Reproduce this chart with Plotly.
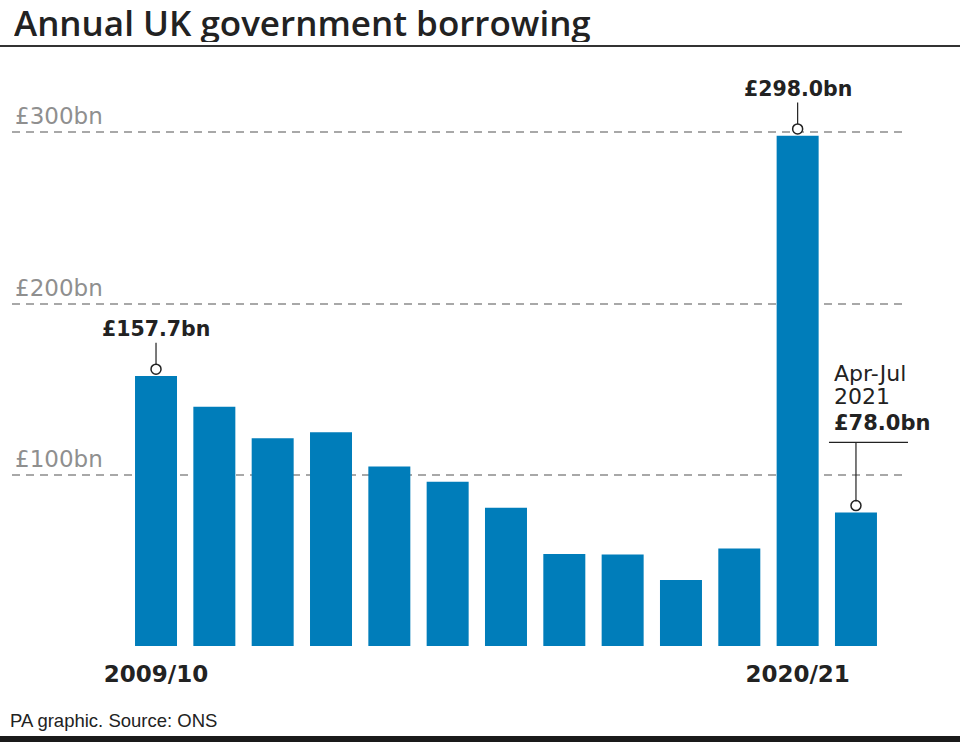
import plotly.graph_objects as go

categories = ["2009/10", "2010/11", "2011/12", "2012/13", "2013/14", "2014/15",
              "2015/16", "2016/17", "2017/18", "2018/19", "2019/20", "2020/21",
              "Apr-Jul 2021"]
values = [157.7, 139.8, 121.4, 124.8, 104.9, 96.0, 80.8, 53.8, 53.5, 38.5, 57.0, 298.0, 78.0]
y_tickvals = [100, 200, 300]
y_ticktext = [f"£{v}bn" for v in y_tickvals]
x_tickvals = ["2009/10", "2020/21"]

BAR = "#007dba"
INK = "#222222"
GRID = "#a8a8a8"
SANS = "DejaVu Sans"

fig = go.Figure()
fig.add_trace(go.Bar(x=categories, y=values, marker=dict(color=BAR, line=dict(width=0)),
                     hoverinfo="skip", showlegend=False))

# open circle markers on labelled bars
lab_idx = [0, 11, 12]
fig.add_trace(go.Scatter(
    x=[categories[i] for i in lab_idx], y=[values[i] + 4 for i in lab_idx],
    mode="markers", showlegend=False, hoverinfo="skip",
    marker=dict(symbol="circle", size=10, color="white", line=dict(color=INK, width=1.5))))

annotations = []
for i in [0, 11]:
    annotations.append(dict(
        x=categories[i], y=values[i] + 4, xref="x", yref="y",
        text=f"<b>£{values[i]:.1f}bn</b>", showarrow=True, arrowhead=0, arrowwidth=1.2,
        arrowcolor=INK, ax=0, ay=-40, standoff=5,
        font=dict(family=SANS, size=20.5, color=INK)))

# Apr-Jul 2021 callout
last = len(categories) - 1
for txt, ys in [("Apr-Jul", 139), ("2021", 116), ("<b>£78.0bn</b>", 89)]:
    annotations.append(dict(
        x=categories[last], y=values[last], xref="x", yref="y", xanchor="left", yanchor="middle",
        xshift=-24, yshift=ys, text=txt, showarrow=False, align="left",
        font=dict(family=SANS, size=22 if "b>" not in txt else 21, color=INK)))

annotations.append(dict(
    x=0, y=1, xref="paper", yref="paper", xanchor="left", yanchor="middle", xshift=0, yshift=59,
    height=40, valign="middle",
    text="Annual UK government borrowing", showarrow=False,
    font=dict(family="Open Sans", size=35, color=INK, weight=600)))
annotations.append(dict(
    x=0, y=0, xref="paper", yref="paper", xanchor="left", yanchor="middle", xshift=-4, yshift=-74,
    text="PA graphic. Source: ONS", showarrow=False,
    font=dict(family="Liberation Sans", size=18.5, color=INK)))

shapes = [
    # title rule
    dict(type="line", xref="paper", yref="paper", xsizemode="pixel", ysizemode="pixel",
         xanchor=0, yanchor=1, x0=-12, x1=948, y0=35, y1=35, line=dict(color="#333333", width=2)),
    # bottom band
    dict(type="rect", xref="paper", yref="paper", xsizemode="pixel", ysizemode="pixel",
         xanchor=0, yanchor=0, x0=-12, x1=948, y0=-90, y1=-100, fillcolor="#1a1a1a",
         line=dict(width=0)),
    # callout lines for final bar
    dict(type="line", xref="x", yref="y", xsizemode="pixel", ysizemode="pixel",
         xanchor=categories[last], yanchor=values[last], x0=0, x1=0, y0=11, y1=70,
         line=dict(color=INK, width=1.2)),
    dict(type="line", xref="x", yref="y", xsizemode="pixel", ysizemode="pixel",
         xanchor=categories[last], yanchor=values[last], x0=-27, x1=87, y0=70, y1=70,
         line=dict(color=INK, width=1.2)),
]

fig.update_layout(
    width=960, height=742, margin=dict(l=12, r=52, t=81, b=96),
    paper_bgcolor="white", plot_bgcolor="white", bargap=0.28,
    annotations=annotations, shapes=shapes, showlegend=False,
    xaxis=dict(type="category", categoryorder="array", categoryarray=categories,
               range=[-2.469, 12.892], tickvals=x_tickvals, ticktext=x_tickvals,
               showgrid=False, zeroline=False, showline=False, ticks="",
               ticklabelstandoff=12,
               tickfont=dict(family=SANS, size=23, color=INK, weight="bold")),
    yaxis=dict(range=[0, 330], tickvals=y_tickvals, ticktext=y_ticktext,
               showgrid=True, gridcolor=GRID, gridwidth=1.5, griddash="8px,6px",
               zeroline=False, showline=False, ticks="",
               ticklabelposition="inside top",
               tickfont=dict(family=SANS, size=23, color="#8f8f8f")),
)

fig.write_html("out.html", config={"displayModeBar": False},
               post_script="document.body.style.margin='0';document.body.style.overflow='hidden';")
